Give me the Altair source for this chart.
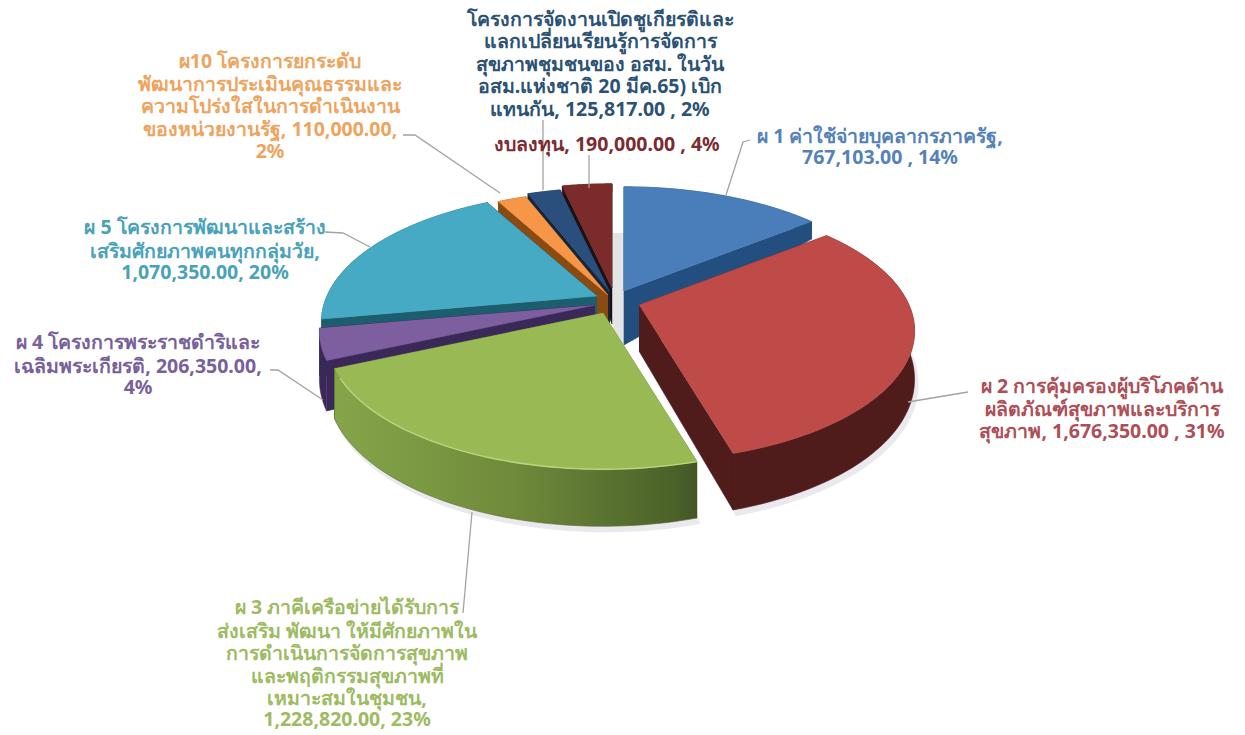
import numpy as np
import pandas as pd
import altair as alt

# ---- chart values ----
slice_names = ["ผ 1", "ผ 2", "ผ 3", "ผ 4", "ผ 5", "ผ10", "อสม", "งบลงทุน"]
slice_values = [767103, 1676350, 1228820, 206350, 1070350, 110000, 125817, 190000]
label_lines = [
    ["ผ 1 ค่าใช้จ่ายบุคลากรภาครัฐ,", "767,103.00 , 14%"],
    ["ผ 2 การคุ้มครองผู้บริโภคด้าน", "ผลิตภัณฑ์สุขภาพและบริการ", "สุขภาพ,  1,676,350.00 , 31%"],
    ["ผ 3 ภาคีเครือข่ายได้รับการ", "ส่งเสริม พัฒนา ให้มีศักยภาพใน", "การดำเนินการจัดการสุขภาพ",
     "และพฤติกรรมสุขภาพที่", "เหมาะสมในชุมชน,", "1,228,820.00, 23%"],
    ["ผ 4 โครงการพระราชดำริและ", "เฉลิมพระเกียรติ, 206,350.00,", "4%"],
    ["ผ 5 โครงการพัฒนาและสร้าง", "เสริมศักยภาพคนทุกกลุ่มวัย,", "1,070,350.00, 20%"],
    ["ผ10 โครงการยกระดับ", "พัฒนาการประเมินคุณธรรมและ", "ความโปร่งใสในการดำเนินงาน",
     "ของหน่วยงานรัฐ, 110,000.00,", "2%"],
    ["โครงการจัดงานเปิดชูเกียรติและ", "แลกเปลี่ยนเรียนรู้การจัดการ", "สุขภาพชุมชนของ อสม. ในวัน",
     "อสม.แห่งชาติ 20 มีค.65) เบิก", "แทนกัน,  125,817.00 , 2%"],
    ["งบลงทุน,  190,000.00 , 4%"],
]

# ---- styling and layout (page pixels) ----
top_colors = ["#4a7ebb", "#be4b48", "#98b954", "#7d5fa0", "#46aac5", "#f79646", "#2b4f7c", "#7b2b2a"]
wall_colors = ["#234f80", "#4f1c1b", "#6b8238", "#3a2858", "#1c5e6e", "#8a4a12", "#14263d", "#3d1514"]
cut_colors = ["#234f80", "#4f1c1b", "#6b8238", "#3a2858", "#1c5e6e", "#8a4a12", "#14263d", "#1d1012"]
text_colors = ["#5482b8", "#ad4f57", "#9dbb62", "#77619a", "#4aa2b8", "#eda45e", "#2b5273", "#7a2c30"]
apex = [(624, 291), (639, 305), (603, 313), (595, 305), (597, 296), (608, 295), (610, 292), (612, 288)]
apex_depth = [54, 46, 46, 46, 30, 34, 36, 36]
label_x = [880, 1102, 347, 138, 205, 270, 600, 607]
label_y = [[137, 158], [387, 410, 432], [608, 632, 654, 677, 699, 720], [343, 367, 388],
           [228, 252, 273], [62, 85, 107, 130, 152], [20, 42, 65, 87, 110], [145]]
leader_x = [[726, 743, 750], [908, 968], [472, 463], [323, 278, 270], [370, 343, 325],
            [500, 415, 403], [543, 543], [589, 589]]
leader_y = [[195, 142, 140], [402, 392], [512, 613], [400, 370, 370], [247, 233, 232],
            [193, 135, 135], [190, 120], [188, 155]]
RX, RY, K = 270, 125, 0.2
draw_order = [7, 6, 5, 4, 0, 3, 1, 2]

total = sum(slice_values)
edges = np.cumsum([0] + slice_values) / total * 2 * np.pi


def project(angle, radius, centre):
    sx, cy = np.sin(angle) * radius, np.cos(angle) * radius
    den = 1 + K * cy
    return centre[0] + RX * sx / den, centre[1] - RY * cy / den, cy


def depth(yy):
    return np.interp(yy, [-1, 0, 0.7, 1], [57, 46, 14, 8])


def poly(xs, ys):
    return pd.DataFrame({"x": xs, "y": ys, "i": np.arange(len(xs))})


X = alt.X("x:Q", axis=None, scale=alt.Scale(domain=[8, 1237], nice=False, zero=False))
Y = alt.Y("y:Q", axis=None, scale=alt.Scale(domain=[727, 8], nice=False, zero=False))


def shape(xs, ys, fill, stroke=None, width=0.6):
    return alt.Chart(poly(xs, ys)).mark_line(
        fill=fill, stroke=stroke or (fill if isinstance(fill, str) else "#556b2f"),
        strokeWidth=width, interpolate="linear", clip=False,
    ).encode(x=X, y=Y, order="i:Q")


layers = []
# pale shadow strip in the gap behind the exploded slice
layers.append(shape([613, 624, 624, 613], [233, 233, 347, 347], "#e4e4e4", width=0))

# soft shadows under the two front slices
for s in (2, 1):
    a = np.linspace(edges[s], edges[s + 1], 60)
    tx, ty, yy = project(a, 1.0, apex[s])
    bx, by = tx, ty + depth(yy)
    layers.append(shape(np.r_[bx - 1, bx[::-1] + 3], np.r_[by - 6, by[::-1] + 5], "#e9e9ee", width=2))

for s in draw_order:
    a = np.linspace(edges[s], edges[s + 1], 60)
    c = apex[s]
    tx, ty, yy = project(a, 1.0, c)
    ax, ay = c
    ad = apex_depth[s]
    bx, by = tx, ty + depth(yy)
    # cut faces
    layers.append(shape([ax, tx[0], bx[0], ax], [ay, ty[0], by[0], ay + ad], cut_colors[s]))
    layers.append(shape([ax, tx[-1], bx[-1], ax], [ay, ty[-1], by[-1], ay + ad], cut_colors[s]))
    # outer wall
    fill = wall_colors[s]
    if s == 2:
        fill = alt.Gradient(
            gradient="linear", x1=0, x2=1, y1=0, y2=0,
            stops=[alt.GradientStop(color="#86a549", offset=0),
                   alt.GradientStop(color="#6f8a3b", offset=0.5),
                   alt.GradientStop(color="#4a6028", offset=0.95),
                   alt.GradientStop(color="#415625", offset=1)],
        )
    layers.append(shape(np.r_[tx, bx[::-1]], np.r_[ty, by[::-1]], fill))
    # top surface
    layers.append(shape(np.r_[ax, tx], np.r_[ay, ty], top_colors[s]))
    if s == 2:  # light rim on the green slice
        layers.append(alt.Chart(poly(tx[:-3], ty[:-3])).mark_line(stroke="#bcd67f", strokeWidth=1.4).encode(x=X, y=Y, order="i:Q"))

# leader lines
for xs, ys in zip(leader_x, leader_y):
    layers.append(alt.Chart(poly(xs, ys)).mark_line(stroke="#a3a3a3", strokeWidth=1.3).encode(x=X, y=Y, order="i:Q"))

# labels
rows = []
for lines, lx, lys, col in zip(label_lines, label_x, label_y, text_colors):
    for t, ly in zip(lines, lys):
        rows.append({"x": lx, "y": ly, "t": t, "c": col})
layers.append(alt.Chart(pd.DataFrame(rows)).mark_text(
    fontSize=19.5, fontWeight="bold", font="Noto Sans", align="center", baseline="middle"
).encode(x=X, y=Y, text="t:N", color=alt.Color("c:N", scale=None)))

chart = alt.layer(*layers).properties(
    width=1229, height=719, padding=0
).configure_view(stroke=None)

chart.save("out.html", embed_options={"renderer": "svg", "actions": False})
